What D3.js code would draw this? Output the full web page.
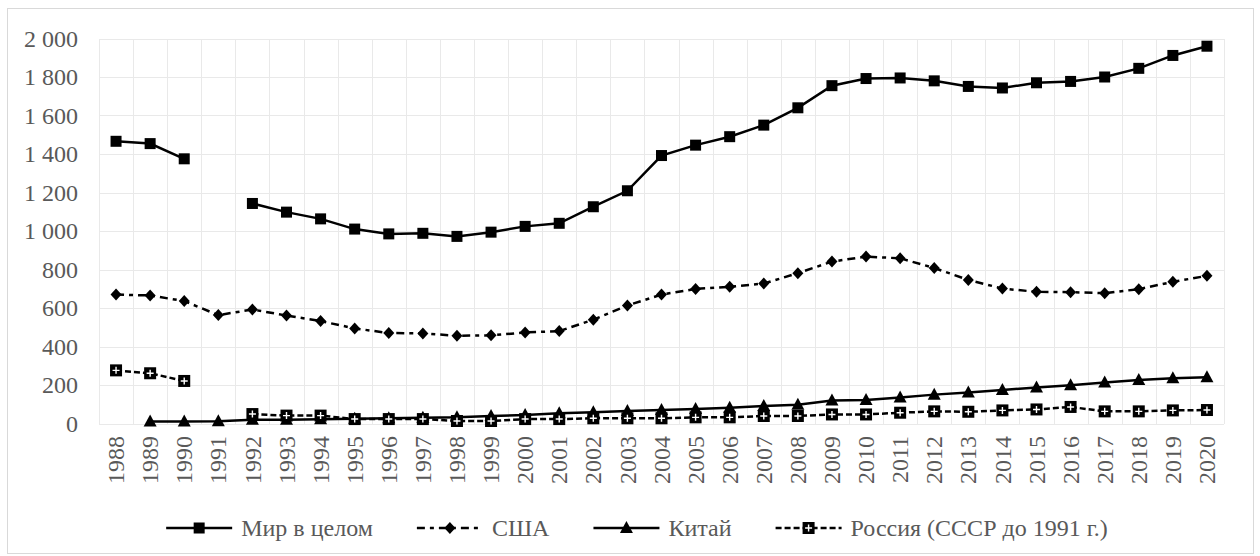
<!DOCTYPE html>
<html>
<head>
<meta charset="utf-8">
<script src="https://d3js.org/d3.v7.min.js"></script>
<style>
@font-face { font-family: "ChartSerif"; src: local("Liberation Serif"), local("LiberationSerif"), local("Times New Roman"); }
body { margin: 0; font-family: "Liberation Serif"; }
</style>
</head>
<body>
<script>
// data
var years = [1988, 1989, 1990, 1991, 1992, 1993, 1994, 1995, 1996, 1997, 1998,
    1999, 2000, 2001, 2002, 2003, 2004, 2005, 2006, 2007, 2008, 2009, 2010,
    2011, 2012, 2013, 2014, 2015, 2016, 2017, 2018, 2019, 2020];
var world = [1466, 1454, 1375, null, 1143, 1098, 1063, 1010, 985, 988, 972, 994,
    1024, 1040, 1126, 1209, 1392, 1446, 1490, 1550, 1640, 1755, 1792, 1795,
    1780, 1751, 1743, 1770, 1777, 1800, 1845, 1912, 1960];
var usa = [670, 665, 636, 563, 592, 561, 532, 494, 470, 468, 456, 458, 473, 480,
    539, 613, 670, 699, 710, 727, 781, 841, 867, 858, 808, 746, 701, 684, 682,
    677, 698, 736, 767];
var china = [null, 10, 10, 12, 20, 20, 22, 25, 27, 30, 32, 39, 44, 53, 58, 65,
    70, 75, 82, 91, 97, 119, 122, 135, 150, 161, 174, 187, 199, 213, 226, 235, 240];
var russia = [276, 261, 221, null, 49, 41, 41, 23, 23, 23, 13, 13, 23, 23, 27,
    27, 27, 32, 32, 39, 39, 47, 47, 56, 63, 61, 68, 73, 86, 63, 63, 68, 70];
var yTicks = [0, 200, 400, 600, 800, 1000, 1200, 1400, 1600, 1800, 2000];
var names = ["Мир в целом", "США", "Китай", "Россия (СССР до 1991 г.)"];

var W = 1260, H = 556;
var svg = d3.select("body").append("svg")
    .attr("width", W)
    .attr("height", H)
    .style("font-family", "'Liberation Serif'");

// every label gets the same serif look
function label(px, py) {
    return svg.append("text")
        .attr("x", px).attr("y", py)
        .style("font-family", "'Liberation Serif'")
        .style("font-size", "24px")
        .style("fill", "#595959");
}

// outer frame
svg.append("rect")
    .attr("x", 7.5).attr("y", 8.5)
    .attr("width", 1246).attr("height", 545)
    .attr("fill", "#fff")
    .attr("stroke", "#d9d9d9");

var x = d3.scaleBand().domain(years).range([99, 1224]).padding(0);
var y = d3.scaleLinear().domain([0, 2000]).range([423.5, 38.5]);

var fmt = d3.formatLocale({ decimal: ",", thousands: " ", grouping: [3], currency: ["", ""] }).format(",d");

// grid
var grid = svg.append("g")
    .attr("stroke", "#e9e9e9")
    .attr("shape-rendering", "crispEdges");
grid.selectAll(".h").data(yTicks).enter().append("line")
    .attr("x1", 99).attr("x2", 1224)
    .attr("y1", function (d) { return Math.round(y(d)) + 0.5; })
    .attr("y2", function (d) { return Math.round(y(d)) + 0.5; });
grid.selectAll(".v").data(d3.range(years.length + 1)).enter().append("line")
    .attr("x1", function (i) { return Math.round(99 + i * x.bandwidth()) + 0.5; })
    .attr("x2", function (i) { return Math.round(99 + i * x.bandwidth()) + 0.5; })
    .attr("y1", y(2000)).attr("y2", y(0));

// y labels
yTicks.forEach(function (d) {
    label(78, y(d))
        .attr("dy", "0.35em")
        .attr("text-anchor", "end")
        .text(fmt(d));
});

// x labels (rotated)
years.forEach(function (d) {
    label(0, 0)
        .attr("transform", "translate(" + (x(d) + x.bandwidth() / 2) + ",436) rotate(-90)")
        .attr("dy", "0.34em")
        .attr("text-anchor", "end")
        .text(d);
});

var series = [
    { name: names[0], values: world, dash: null, marker: "square" },
    { name: names[1], values: usa, dash: "8,5,4,5", marker: "diamond" },
    { name: names[2], values: china, dash: null, marker: "triangle" },
    { name: names[3], values: russia, dash: "6,3", marker: "plus" }
];

function cx(i) { return x(years[i]) + x.bandwidth() / 2; }

var line = d3.line()
    .defined(function (d) { return d != null; })
    .x(function (d, i) { return cx(i); })
    .y(function (d) { return y(d); });

function drawMarker(g, type, px, py) {
    if (type == "square") {
        g.append("rect").attr("x", px - 5.5).attr("y", py - 5.5)
            .attr("width", 11).attr("height", 11).attr("fill", "#000");
    } else if (type == "diamond") {
        g.append("path").attr("d", "M" + px + "," + (py - 6) + "L" + (px + 5.5) + "," + py +
            "L" + px + "," + (py + 6) + "L" + (px - 5.5) + "," + py + "Z").attr("fill", "#000");
    } else if (type == "triangle") {
        g.append("path").attr("d", "M" + px + "," + (py - 7) + "L" + (px + 6.5) + "," + (py + 5) +
            "L" + (px - 6.5) + "," + (py + 5) + "Z").attr("fill", "#000");
    } else {
        g.append("rect").attr("x", px - 6).attr("y", py - 6)
            .attr("width", 12).attr("height", 12).attr("fill", "#000");
        g.append("path").attr("d", "M" + (px - 3.5) + "," + py + "H" + (px + 3.5) +
            "M" + px + "," + (py - 3.5) + "V" + (py + 3.5))
            .attr("stroke", "#fff").attr("stroke-width", 1.4);
    }
}

series.forEach(function (s) {
    var g = svg.append("g");
    g.append("path")
        .datum(s.values)
        .attr("d", line)
        .attr("fill", "none")
        .attr("stroke", "#000")
        .attr("stroke-width", 2.5)
        .attr("stroke-dasharray", s.dash);
    s.values.forEach(function (v, i) {
        if (v != null) drawMarker(g, s.marker, cx(i), y(v));
    });
});

// legend
var items = [];
series.forEach(function (s) {
    var t = label(0, 528)
        .attr("dy", "0.35em")
        .text(s.name);
    items.push({ s: s, t: t, w: t.node().getComputedTextLength() });
});
var total = d3.sum(items, function (d) { return 66 + 9 + d.w; }) + 44 * (items.length - 1);
var lx = 637 - total / 2;
items.forEach(function (d) {
    svg.append("line")
        .attr("x1", lx).attr("x2", lx + 66)
        .attr("y1", 528).attr("y2", 528)
        .attr("stroke", "#000").attr("stroke-width", 2.5)
        .attr("stroke-dasharray", d.s.dash);
    drawMarker(svg, d.s.marker, lx + 33, 528);
    d.t.attr("x", lx + 75);
    lx += 75 + d.w + 44;
});
</script>
</body>
</html>
